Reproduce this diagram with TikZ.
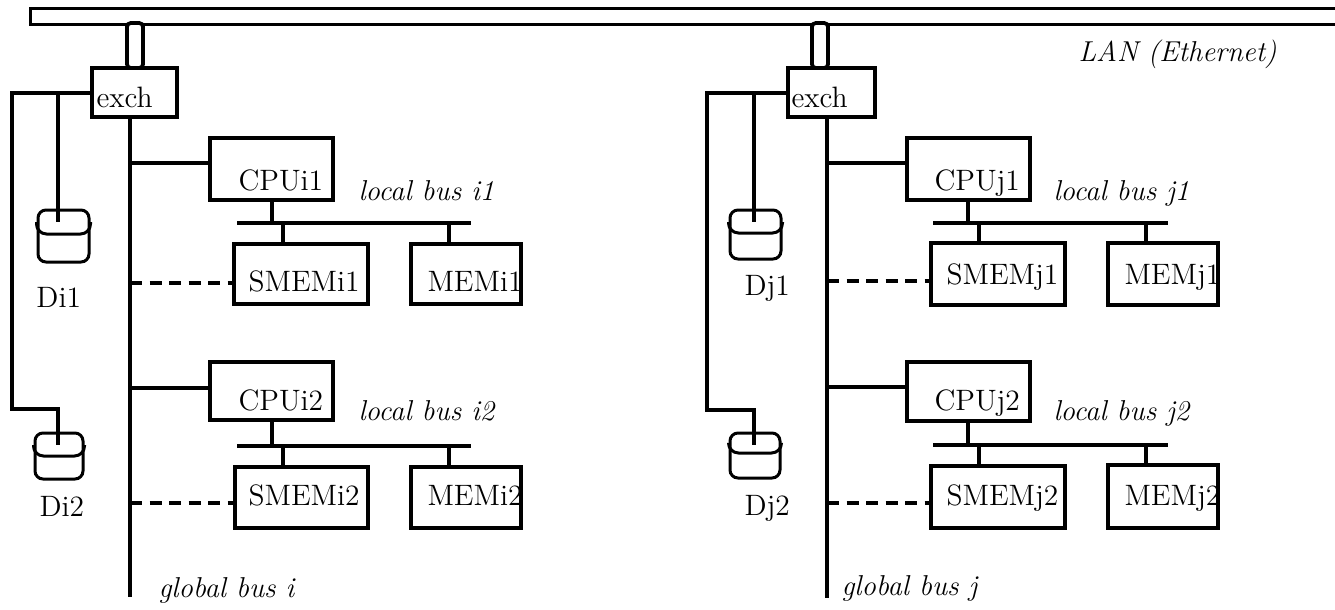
\documentclass[tikz,border=0pt]{standalone}
\usetikzlibrary{fit,calc}
\newcommand\dgrm{\fontsize{11.8}{13}\selectfont}
\newcommand\dgit{\fontsize{11.5}{13}\selectfont\itshape}
\begin{document}
\begin{tikzpicture}[x=0.4pt,y=-0.4pt,line width=1.2pt,
  box/.style={draw,rectangle,inner sep=0pt,line width=1.3pt},
  stubbox/.style={draw,rectangle,rounded corners=1.5pt,inner sep=0pt,line width=1.5pt,fill=white},
  disk/.style={draw,rectangle,rounded corners=3.2pt,inner sep=0pt,line width=1.2pt},
  lbl/.style={inner sep=0pt,anchor=base west,font=\dgrm},
  itl/.style={inner sep=0pt,anchor=base west,font=\dgit},
  bus/.style={line width=1.25pt},
  dbus/.style={line width=1.25pt,dash pattern=on 4.8pt off 3pt},
  lanline/.style={line width=1.5pt}]
\useasboundingbox (0,0) rectangle (1335,609);

% LAN bar
\node[inner sep=0pt,fit={(32,10) (1335,23)}] (lan) {};
\draw[lanline] (lan.north east) -- (lan.north west) -- (lan.south west) -- (lan.south east);
\node[itl] (lantxt) at (1077,61) {LAN (Ethernet)};

% ================= side i =================
\node[stubbox,fit={(127,23) (143,68)}] (stubi) {};
\node[box,fit={(92,68) (177,117)}] (exchi) {};
\node[lbl] (exchit) at (95,107) {exch};

\node[disk,fit={(38,210) (89,262)}] (di1) {};
\draw[line width=1.2pt,rounded corners=4pt] (di1.west |- 0,222) |- (di1.center |- 0,234) -| (di1.east |- 0,222);
\node[lbl] (di1t) at (35,307) {Di1};
\node[disk,fit={(35,433) (83,479)}] (di2) {};
\draw[line width=1.2pt,rounded corners=4pt] (di2.west |- 0,445) |- (di2.center |- 0,456) -| (di2.east |- 0,445);
\node[lbl] (di2t) at (38,516) {Di2};

\draw[bus] (exchi.west |- 0,93) -- (12,93) -- (12,409) -- (58,409) -- (58,445);
\draw[bus] (58,93) -- (58,222);

\coordinate (gbitop) at (130,117);
\coordinate (gbibot) at (130,597);
\draw[bus] (exchi.south -| gbitop) -- (gbibot);
\node[itl] (gbit) at (157,597) {global bus i};

% block i1
\node[box,fit={(210,138) (333,200)}] (cpui1) {};
\node[lbl] (cpui1t) at (237,190) {CPUi1};
\draw[bus] (gbitop |- 0,163) -- (cpui1.west |- 0,163);
\coordinate (lbi1a) at (237,223);
\coordinate (lbi1b) at (471,223);
\draw[bus] (lbi1a) -- (lbi1b);
\node[itl] (lbi1t) at (357,200) {local bus i1};
\node[box,fit={(234,244) (368,304)}] (smemi1) {};
\node[lbl] (smemi1t) at (247,291) {SMEMi1};
\node[box,fit={(411,244) (521,304)}] (memi1) {};
\node[lbl] (memi1t) at (426,291) {MEMi1};
\draw[bus] (cpui1.south -| 272,0) -- (lbi1a -| 272,0);
\draw[bus] (lbi1a -| 283,0) -- (smemi1.north -| 283,0);
\draw[bus] (lbi1a -| 449,0) -- (memi1.north -| 449,0);
\draw[dbus] (gbitop |- 0,283) -- (smemi1.west |- 0,283);

% block i2
\node[box,fit={(210,362) (333,420)}] (cpui2) {};
\node[lbl] (cpui2t) at (237,410) {CPUi2};
\draw[bus] (gbitop |- 0,388) -- (cpui2.west |- 0,388);
\coordinate (lbi2a) at (237,446);
\coordinate (lbi2b) at (471,446);
\draw[bus] (lbi2a) -- (lbi2b);
\node[itl] (lbi2t) at (357,420) {local bus i2};
\node[box,fit={(235,467) (368,528)}] (smemi2) {};
\node[lbl] (smemi2t) at (247,505) {SMEMi2};
\node[box,fit={(411,467) (521,528)}] (memi2) {};
\node[lbl] (memi2t) at (426,505) {MEMi2};
\draw[bus] (cpui2.south -| 272,0) -- (lbi2a -| 272,0);
\draw[bus] (lbi2a -| 283,0) -- (smemi2.north -| 283,0);
\draw[bus] (lbi2a -| 449,0) -- (memi2.north -| 449,0);
\draw[dbus] (gbitop |- 0,503) -- (smemi2.west |- 0,503);

% ================= side j =================
\node[stubbox,fit={(812,23) (828,68)}] (stubj) {};
\node[box,fit={(788,68) (875,117)}] (exchj) {};
\node[lbl] (exchjt) at (790,107) {exch};

\node[disk,fit={(730,210) (781,259)}] (dj1) {};
\draw[line width=1.2pt,rounded corners=4pt] (dj1.west |- 0,222) |- (dj1.center |- 0,233) -| (dj1.east |- 0,222);
\node[lbl] (dj1t) at (743,295) {Dj1};
\node[disk,fit={(730,433) (780,478)}] (dj2) {};
\draw[line width=1.2pt,rounded corners=4pt] (dj2.west |- 0,443) |- (dj2.center |- 0,453) -| (dj2.east |- 0,443);
\node[lbl] (dj2t) at (743,515) {Dj2};

\draw[bus] (exchj.west |- 0,93) -- (707,93) -- (707,410) -- (754,410) -- (754,445);
\draw[bus] (754,93) -- (754,222);

\coordinate (gbjtop) at (827,117);
\coordinate (gbjbot) at (827,598);
\draw[bus] (exchj.south -| gbjtop) -- (gbjbot);
\node[itl] (gbjt) at (840,595) {global bus j};

% block j1
\node[box,fit={(907,138) (1030,200)}] (cpuj1) {};
\node[lbl] (cpuj1t) at (933,190) {CPUj1};
\draw[bus] (gbjtop |- 0,163) -- (cpuj1.west |- 0,163);
\coordinate (lbj1a) at (933,223);
\coordinate (lbj1b) at (1168,223);
\draw[bus] (lbj1a) -- (lbj1b);
\node[itl] (lbj1t) at (1052,200) {local bus j1};
\node[box,fit={(931,243) (1065,305)}] (smemj1) {};
\node[lbl] (smemj1t) at (945,284) {SMEMj1};
\node[box,fit={(1108,243) (1218,305)}] (memj1) {};
\node[lbl] (memj1t) at (1123,284) {MEMj1};
\draw[bus] (cpuj1.south -| 968,0) -- (lbj1a -| 968,0);
\draw[bus] (lbj1a -| 979,0) -- (smemj1.north -| 979,0);
\draw[bus] (lbj1a -| 1146,0) -- (memj1.north -| 1146,0);
\draw[dbus] (gbjtop |- 0,281) -- (smemj1.west |- 0,281);

% block j2
\node[box,fit={(907,362) (1030,421)}] (cpuj2) {};
\node[lbl] (cpuj2t) at (933,410) {CPUj2};
\draw[bus] (gbjtop |- 0,387) -- (cpuj2.west |- 0,387);
\coordinate (lbj2a) at (933,445);
\coordinate (lbj2b) at (1168,445);
\draw[bus] (lbj2a) -- (lbj2b);
\node[itl] (lbj2t) at (1052,420) {local bus j2};
\node[box,fit={(931,466) (1065,528)}] (smemj2) {};
\node[lbl] (smemj2t) at (945,505) {SMEMj2};
\node[box,fit={(1108,465) (1218,528)}] (memj2) {};
\node[lbl] (memj2t) at (1123,505) {MEMj2};
\draw[bus] (cpuj2.south -| 968,0) -- (lbj2a -| 968,0);
\draw[bus] (lbj2a -| 979,0) -- (smemj2.north -| 979,0);
\draw[bus] (lbj2a -| 1146,0) -- (memj2.north -| 1146,0);
\draw[dbus] (gbjtop |- 0,503) -- (smemj2.west |- 0,503);
\end{tikzpicture}
\end{document}
